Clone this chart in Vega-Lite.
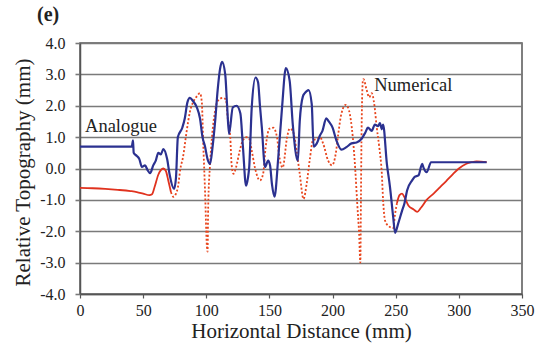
{
  "$schema": "https://vega.github.io/schema/vega-lite/v6.json",
  "autosize": {"type": "none"},
  "width": 442,
  "height": 251,
  "padding": {"left": 80, "top": 43, "right": 18, "bottom": 50},
  "background": "white",
  "config": {
    "view": {"stroke": "#555555", "strokeWidth": 1.5},
    "font": "Liberation Serif",
    "axis": {"labelFont": "Liberation Serif", "titleFont": "Liberation Serif"},
    "text": {"font": "Liberation Serif"}
  },
  "title": {"text": "(e)", "anchor": "start", "frame": "group", "dx": -43, "offset": 10, "fontSize": 20, "font": "Liberation Serif", "fontWeight": "bold", "color": "#222222"},
  "datasets": {
    "lines": [
      {"series": "Analogue", "seg": "a", "x": 0, "y": 0.7},
      {"series": "Analogue", "seg": "a", "x": 41, "y": 0.7},
      {"series": "Analogue", "seg": "a", "x": 42, "y": 0.9},
      {"series": "Analogue", "seg": "a", "x": 42.5, "y": 0.5},
      {"series": "Analogue", "seg": "a", "x": 45, "y": 0.4},
      {"series": "Analogue", "seg": "a", "x": 47, "y": 0.3},
      {"series": "Analogue", "seg": "a", "x": 49, "y": 0.05},
      {"series": "Analogue", "seg": "a", "x": 51.5, "y": 0.1},
      {"series": "Analogue", "seg": "a", "x": 53.5, "y": -0.05},
      {"series": "Analogue", "seg": "a", "x": 55.5, "y": -0.15},
      {"series": "Analogue", "seg": "a", "x": 58, "y": 0.1},
      {"series": "Analogue", "seg": "a", "x": 60, "y": 0.25},
      {"series": "Analogue", "seg": "a", "x": 62, "y": 0.5},
      {"series": "Analogue", "seg": "a", "x": 64, "y": 0.45},
      {"series": "Analogue", "seg": "a", "x": 66, "y": 0.62},
      {"series": "Analogue", "seg": "a", "x": 69, "y": 0.3},
      {"series": "Analogue", "seg": "a", "x": 71, "y": -0.2},
      {"series": "Analogue", "seg": "a", "x": 74.5, "y": -0.65},
      {"series": "Analogue", "seg": "a", "x": 76, "y": -0.3},
      {"series": "Analogue", "seg": "a", "x": 77.5, "y": 1.0},
      {"series": "Analogue", "seg": "a", "x": 81, "y": 1.3},
      {"series": "Analogue", "seg": "a", "x": 83, "y": 1.6},
      {"series": "Analogue", "seg": "a", "x": 85, "y": 2.1},
      {"series": "Analogue", "seg": "a", "x": 87, "y": 2.25},
      {"series": "Analogue", "seg": "a", "x": 89.5, "y": 2.15},
      {"series": "Analogue", "seg": "a", "x": 92.5, "y": 1.95},
      {"series": "Analogue", "seg": "a", "x": 95, "y": 1.6},
      {"series": "Analogue", "seg": "a", "x": 97, "y": 1.0},
      {"series": "Analogue", "seg": "a", "x": 99, "y": 0.7},
      {"series": "Analogue", "seg": "a", "x": 101, "y": 0.3},
      {"series": "Analogue", "seg": "a", "x": 103, "y": 0.15},
      {"series": "Analogue", "seg": "a", "x": 105, "y": 0.7},
      {"series": "Analogue", "seg": "a", "x": 107, "y": 1.5},
      {"series": "Analogue", "seg": "a", "x": 109, "y": 2.5},
      {"series": "Analogue", "seg": "a", "x": 111, "y": 3.2},
      {"series": "Analogue", "seg": "a", "x": 112.5, "y": 3.4},
      {"series": "Analogue", "seg": "a", "x": 115, "y": 3.0},
      {"series": "Analogue", "seg": "a", "x": 116.5, "y": 2.0},
      {"series": "Analogue", "seg": "a", "x": 118, "y": 1.1},
      {"series": "Analogue", "seg": "a", "x": 121, "y": 1.95},
      {"series": "Analogue", "seg": "a", "x": 124, "y": 2.0},
      {"series": "Analogue", "seg": "a", "x": 127, "y": 1.75},
      {"series": "Analogue", "seg": "a", "x": 129, "y": 0.7},
      {"series": "Analogue", "seg": "a", "x": 131.5, "y": -0.55},
      {"series": "Analogue", "seg": "a", "x": 133, "y": -0.3},
      {"series": "Analogue", "seg": "a", "x": 134, "y": 0.05},
      {"series": "Analogue", "seg": "a", "x": 136, "y": 1.95},
      {"series": "Analogue", "seg": "a", "x": 139, "y": 2.9},
      {"series": "Analogue", "seg": "a", "x": 141, "y": 2.75},
      {"series": "Analogue", "seg": "a", "x": 142.5, "y": 2.0},
      {"series": "Analogue", "seg": "a", "x": 144, "y": 1.3},
      {"series": "Analogue", "seg": "a", "x": 146.5, "y": 0.05},
      {"series": "Analogue", "seg": "a", "x": 149, "y": 0.25},
      {"series": "Analogue", "seg": "a", "x": 150.5, "y": 0.1},
      {"series": "Analogue", "seg": "a", "x": 152, "y": -0.5},
      {"series": "Analogue", "seg": "a", "x": 154, "y": -0.9},
      {"series": "Analogue", "seg": "a", "x": 157, "y": 0.35},
      {"series": "Analogue", "seg": "a", "x": 160, "y": 1.95},
      {"series": "Analogue", "seg": "a", "x": 163, "y": 3.2},
      {"series": "Analogue", "seg": "a", "x": 166, "y": 2.8},
      {"series": "Analogue", "seg": "a", "x": 168.5, "y": 1.4},
      {"series": "Analogue", "seg": "a", "x": 172.5, "y": 0.25},
      {"series": "Analogue", "seg": "a", "x": 174, "y": 1.5},
      {"series": "Analogue", "seg": "a", "x": 176.5, "y": 2.3},
      {"series": "Analogue", "seg": "a", "x": 178, "y": 2.4},
      {"series": "Analogue", "seg": "a", "x": 181, "y": 2.5},
      {"series": "Analogue", "seg": "a", "x": 183.5, "y": 2.05},
      {"series": "Analogue", "seg": "a", "x": 185, "y": 0.7},
      {"series": "Analogue", "seg": "a", "x": 187.5, "y": 0.8},
      {"series": "Analogue", "seg": "a", "x": 190, "y": 1.05},
      {"series": "Analogue", "seg": "a", "x": 192, "y": 1.2},
      {"series": "Analogue", "seg": "a", "x": 195, "y": 1.6},
      {"series": "Analogue", "seg": "a", "x": 197, "y": 1.5},
      {"series": "Analogue", "seg": "a", "x": 200, "y": 1.3},
      {"series": "Analogue", "seg": "a", "x": 203, "y": 0.9},
      {"series": "Analogue", "seg": "a", "x": 207, "y": 0.6},
      {"series": "Analogue", "seg": "a", "x": 211, "y": 0.68},
      {"series": "Analogue", "seg": "a", "x": 215, "y": 0.8},
      {"series": "Analogue", "seg": "a", "x": 219, "y": 0.83},
      {"series": "Analogue", "seg": "a", "x": 223, "y": 0.95},
      {"series": "Analogue", "seg": "a", "x": 226, "y": 1.15},
      {"series": "Analogue", "seg": "a", "x": 228, "y": 1.3},
      {"series": "Analogue", "seg": "a", "x": 231, "y": 1.2},
      {"series": "Analogue", "seg": "a", "x": 233.5, "y": 1.4},
      {"series": "Analogue", "seg": "a", "x": 236, "y": 1.35},
      {"series": "Analogue", "seg": "a", "x": 237.5, "y": 1.45},
      {"series": "Analogue", "seg": "a", "x": 239, "y": 1.25},
      {"series": "Analogue", "seg": "a", "x": 240, "y": 1.4},
      {"series": "Analogue", "seg": "a", "x": 243, "y": 0.15},
      {"series": "Analogue", "seg": "a", "x": 245.5, "y": -0.6},
      {"series": "Analogue", "seg": "a", "x": 248, "y": -1.55},
      {"series": "Analogue", "seg": "a", "x": 249.5, "y": -2.05},
      {"series": "Analogue", "seg": "a", "x": 252, "y": -1.75},
      {"series": "Analogue", "seg": "a", "x": 255, "y": -1.35},
      {"series": "Analogue", "seg": "a", "x": 257, "y": -1.1},
      {"series": "Analogue", "seg": "a", "x": 259, "y": -0.7},
      {"series": "Analogue", "seg": "a", "x": 263, "y": -0.38},
      {"series": "Analogue", "seg": "a", "x": 265, "y": -0.27},
      {"series": "Analogue", "seg": "a", "x": 268, "y": -0.22},
      {"series": "Analogue", "seg": "a", "x": 271, "y": 0.15},
      {"series": "Analogue", "seg": "a", "x": 272, "y": 0.03},
      {"series": "Analogue", "seg": "a", "x": 274.5, "y": -0.12},
      {"series": "Analogue", "seg": "a", "x": 278, "y": 0.2},
      {"series": "Analogue", "seg": "a", "x": 322, "y": 0.2},

      {"series": "Numerical", "seg": "solid1", "x": 0, "y": -0.62},
      {"series": "Numerical", "seg": "solid1", "x": 10, "y": -0.63},
      {"series": "Numerical", "seg": "solid1", "x": 20, "y": -0.65},
      {"series": "Numerical", "seg": "solid1", "x": 30, "y": -0.68},
      {"series": "Numerical", "seg": "solid1", "x": 40, "y": -0.72},
      {"series": "Numerical", "seg": "solid1", "x": 45, "y": -0.75},
      {"series": "Numerical", "seg": "solid1", "x": 50, "y": -0.8},
      {"series": "Numerical", "seg": "solid1", "x": 55, "y": -0.85},
      {"series": "Numerical", "seg": "solid1", "x": 57, "y": -0.82},
      {"series": "Numerical", "seg": "solid1", "x": 59, "y": -0.6},
      {"series": "Numerical", "seg": "solid1", "x": 62, "y": -0.2},
      {"series": "Numerical", "seg": "solid1", "x": 64, "y": -0.05},
      {"series": "Numerical", "seg": "solid1", "x": 66, "y": 0.0},
      {"series": "Numerical", "seg": "solid1", "x": 68, "y": -0.08},
      {"series": "Numerical", "seg": "solid1", "x": 70, "y": -0.4},
      {"series": "Numerical", "seg": "solid1", "x": 72, "y": -0.75},

      {"series": "Numerical", "seg": "dotted", "x": 72, "y": -0.75},
      {"series": "Numerical", "seg": "dotted", "x": 74, "y": -0.9},
      {"series": "Numerical", "seg": "dotted", "x": 76, "y": -0.8},
      {"series": "Numerical", "seg": "dotted", "x": 77.5, "y": -0.6},
      {"series": "Numerical", "seg": "dotted", "x": 79.5, "y": 0.0},
      {"series": "Numerical", "seg": "dotted", "x": 81.5, "y": 0.35},
      {"series": "Numerical", "seg": "dotted", "x": 84.5, "y": 1.2},
      {"series": "Numerical", "seg": "dotted", "x": 87, "y": 1.8},
      {"series": "Numerical", "seg": "dotted", "x": 90, "y": 2.15},
      {"series": "Numerical", "seg": "dotted", "x": 92.5, "y": 2.3},
      {"series": "Numerical", "seg": "dotted", "x": 95, "y": 2.4},
      {"series": "Numerical", "seg": "dotted", "x": 96.5, "y": 2.1},
      {"series": "Numerical", "seg": "dotted", "x": 97.5, "y": 0.9},
      {"series": "Numerical", "seg": "dotted", "x": 99, "y": -0.7},
      {"series": "Numerical", "seg": "dotted", "x": 100.5, "y": -2.5},
      {"series": "Numerical", "seg": "dotted", "x": 101, "y": -2.65},
      {"series": "Numerical", "seg": "dotted", "x": 101.5, "y": -1.25},
      {"series": "Numerical", "seg": "dotted", "x": 103, "y": 0.15},
      {"series": "Numerical", "seg": "dotted", "x": 104.5, "y": 1.0},
      {"series": "Numerical", "seg": "dotted", "x": 107, "y": 1.85},
      {"series": "Numerical", "seg": "dotted", "x": 109, "y": 2.15},
      {"series": "Numerical", "seg": "dotted", "x": 113, "y": 2.25},
      {"series": "Numerical", "seg": "dotted", "x": 115.5, "y": 2.2},
      {"series": "Numerical", "seg": "dotted", "x": 117, "y": 1.6},
      {"series": "Numerical", "seg": "dotted", "x": 119, "y": 1.0},
      {"series": "Numerical", "seg": "dotted", "x": 120, "y": 0.15},
      {"series": "Numerical", "seg": "dotted", "x": 121.5, "y": -0.17},
      {"series": "Numerical", "seg": "dotted", "x": 123.5, "y": 0.03},
      {"series": "Numerical", "seg": "dotted", "x": 126.5, "y": 0.57},
      {"series": "Numerical", "seg": "dotted", "x": 129, "y": 0.9},
      {"series": "Numerical", "seg": "dotted", "x": 132, "y": 1.0},
      {"series": "Numerical", "seg": "dotted", "x": 134, "y": 0.95},
      {"series": "Numerical", "seg": "dotted", "x": 136, "y": 0.57},
      {"series": "Numerical", "seg": "dotted", "x": 138.5, "y": 0.03},
      {"series": "Numerical", "seg": "dotted", "x": 142.5, "y": -0.38},
      {"series": "Numerical", "seg": "dotted", "x": 145, "y": -0.17},
      {"series": "Numerical", "seg": "dotted", "x": 147, "y": 0.67},
      {"series": "Numerical", "seg": "dotted", "x": 150, "y": 1.27},
      {"series": "Numerical", "seg": "dotted", "x": 153, "y": 1.3},
      {"series": "Numerical", "seg": "dotted", "x": 156, "y": 1.0},
      {"series": "Numerical", "seg": "dotted", "x": 157.5, "y": 0.47},
      {"series": "Numerical", "seg": "dotted", "x": 160.5, "y": 0.03},
      {"series": "Numerical", "seg": "dotted", "x": 164, "y": 1.0},
      {"series": "Numerical", "seg": "dotted", "x": 166, "y": 1.27},
      {"series": "Numerical", "seg": "dotted", "x": 168.5, "y": 1.2},
      {"series": "Numerical", "seg": "dotted", "x": 171.5, "y": 0.57},
      {"series": "Numerical", "seg": "dotted", "x": 174, "y": -0.17},
      {"series": "Numerical", "seg": "dotted", "x": 177, "y": -0.97},
      {"series": "Numerical", "seg": "dotted", "x": 179.5, "y": -0.48},
      {"series": "Numerical", "seg": "dotted", "x": 182, "y": 0.3},
      {"series": "Numerical", "seg": "dotted", "x": 184.5, "y": 0.9},
      {"series": "Numerical", "seg": "dotted", "x": 188, "y": 0.95},
      {"series": "Numerical", "seg": "dotted", "x": 190, "y": 1.0},
      {"series": "Numerical", "seg": "dotted", "x": 192.5, "y": 0.8},
      {"series": "Numerical", "seg": "dotted", "x": 196.5, "y": 0.25},
      {"series": "Numerical", "seg": "dotted", "x": 199.5, "y": 0.1},
      {"series": "Numerical", "seg": "dotted", "x": 202.5, "y": 0.47},
      {"series": "Numerical", "seg": "dotted", "x": 204.5, "y": 1.1},
      {"series": "Numerical", "seg": "dotted", "x": 207, "y": 1.75},
      {"series": "Numerical", "seg": "dotted", "x": 210.5, "y": 2.03},
      {"series": "Numerical", "seg": "dotted", "x": 213, "y": 1.85},
      {"series": "Numerical", "seg": "dotted", "x": 216, "y": 1.0},
      {"series": "Numerical", "seg": "dotted", "x": 218, "y": -0.05},
      {"series": "Numerical", "seg": "dotted", "x": 219.5, "y": -1.1},
      {"series": "Numerical", "seg": "dotted", "x": 221, "y": -2.07},
      {"series": "Numerical", "seg": "dotted", "x": 222, "y": -3.0},
      {"series": "Numerical", "seg": "dotted", "x": 222.5, "y": -0.8},
      {"series": "Numerical", "seg": "dotted", "x": 223, "y": 1.3},
      {"series": "Numerical", "seg": "dotted", "x": 224, "y": 2.8},
      {"series": "Numerical", "seg": "dotted", "x": 224.5, "y": 2.85},
      {"series": "Numerical", "seg": "dotted", "x": 227, "y": 2.5},
      {"series": "Numerical", "seg": "dotted", "x": 229, "y": 2.27},
      {"series": "Numerical", "seg": "dotted", "x": 231, "y": 2.4},
      {"series": "Numerical", "seg": "dotted", "x": 233, "y": 2.05},
      {"series": "Numerical", "seg": "dotted", "x": 235, "y": 1.3},
      {"series": "Numerical", "seg": "dotted", "x": 237, "y": 0.67},
      {"series": "Numerical", "seg": "dotted", "x": 239, "y": -0.17},
      {"series": "Numerical", "seg": "dotted", "x": 240, "y": -1.0},
      {"series": "Numerical", "seg": "dotted", "x": 241.5, "y": -1.65},
      {"series": "Numerical", "seg": "dotted", "x": 244, "y": -1.82},
      {"series": "Numerical", "seg": "dotted", "x": 248, "y": -1.9},
      {"series": "Numerical", "seg": "dotted", "x": 249.5, "y": -1.45},
      {"series": "Numerical", "seg": "dotted", "x": 251, "y": -1.1},

      {"series": "Numerical", "seg": "solid2", "x": 251, "y": -1.1},
      {"series": "Numerical", "seg": "solid2", "x": 253, "y": -0.85},
      {"series": "Numerical", "seg": "solid2", "x": 255, "y": -0.8},
      {"series": "Numerical", "seg": "solid2", "x": 257, "y": -0.92},
      {"series": "Numerical", "seg": "solid2", "x": 260, "y": -1.18},
      {"series": "Numerical", "seg": "solid2", "x": 264, "y": -1.3},
      {"series": "Numerical", "seg": "solid2", "x": 267, "y": -1.38},
      {"series": "Numerical", "seg": "solid2", "x": 270, "y": -1.25},
      {"series": "Numerical", "seg": "solid2", "x": 274.5, "y": -1.0},
      {"series": "Numerical", "seg": "solid2", "x": 280, "y": -0.8},
      {"series": "Numerical", "seg": "solid2", "x": 285, "y": -0.6},
      {"series": "Numerical", "seg": "solid2", "x": 290, "y": -0.4},
      {"series": "Numerical", "seg": "solid2", "x": 295.5, "y": -0.17},
      {"series": "Numerical", "seg": "solid2", "x": 300, "y": 0.0},
      {"series": "Numerical", "seg": "solid2", "x": 306, "y": 0.15},
      {"series": "Numerical", "seg": "solid2", "x": 310, "y": 0.2},
      {"series": "Numerical", "seg": "solid2", "x": 314, "y": 0.23},
      {"series": "Numerical", "seg": "solid2", "x": 322, "y": 0.2}
    ],
    "labels": [
      {"label": "Analogue", "x": 4, "y": 1.37},
      {"label": "Numerical", "x": 233, "y": 2.67}
    ]
  },
  "encoding": {
    "x": {
      "field": "x", "type": "quantitative",
      "scale": {"domain": [0, 350], "nice": false},
      "axis": {
        "values": [0, 50, 100, 150, 200, 250, 300, 350],
        "title": "Horizontal Distance (mm)",
        "grid": false,
        "domain": true, "domainColor": "#555555", "domainWidth": 1.5,
        "ticks": true, "tickColor": "#555555", "tickSize": 4, "tickWidth": 1.2,
        "labelFont": "Liberation Serif", "labelFontSize": 16, "labelColor": "#222222", "labelPadding": 4,
        "labelOverlap": false, "labelFlush": false,
        "titleFont": "Liberation Serif", "titleFontSize": 21, "titleFontWeight": "normal", "titleColor": "#222222",
        "titleBaseline": "alphabetic", "titleY": 43
      }
    },
    "y": {
      "field": "y", "type": "quantitative",
      "scale": {"domain": [-4, 4], "nice": false},
      "axis": {
        "values": [-4, -3, -2, -1, 0, 1, 2, 3, 4],
        "labelExpr": "(datum.value < 0 ? '-' : '') + format(abs(datum.value), '.1f')",
        "title": "Relative Topography (mm)",
        "grid": true, "gridColor": "#7a7a7a", "gridWidth": 1.6,
        "domain": true, "domainColor": "#555555", "domainWidth": 1.5,
        "ticks": true, "tickColor": "#7a7a7a", "tickSize": 5, "tickWidth": 1.6,
        "labelFont": "Liberation Serif", "labelFontSize": 16, "labelColor": "#222222", "labelPadding": 10,
        "labelFlush": false, "labelOverlap": false,
        "titleFont": "Liberation Serif", "titleFontSize": 21, "titleFontWeight": "normal", "titleColor": "#222222",
        "titleAngle": -90, "titleBaseline": "alphabetic", "titleX": -51, "titleY": 129, "titleAlign": "center"
      }
    }
  },
  "layer": [
    {
      "data": {"name": "lines"},
      "transform": [{"filter": "datum.seg === 'dotted'"}],
      "mark": {"type": "line", "color": "#e8461e", "strokeWidth": 1.8, "strokeDash": [2, 2], "interpolate": "monotone", "clip": true},
      "encoding": {"detail": {"field": "seg"}}
    },
    {
      "data": {"name": "lines"},
      "transform": [{"filter": "datum.series === 'Numerical' && datum.seg !== 'dotted'"}],
      "mark": {"type": "line", "color": "#e0321e", "strokeWidth": 1.8, "interpolate": "monotone", "clip": true},
      "encoding": {"detail": {"field": "seg"}}
    },
    {
      "data": {"name": "lines"},
      "transform": [{"filter": "datum.series === 'Analogue'"}],
      "mark": {"type": "line", "color": "#2b3190", "strokeWidth": 2.2, "interpolate": "monotone", "clip": true},
      "encoding": {}
    },
    {
      "data": {"name": "labels"},
      "mark": {"type": "text", "align": "left", "baseline": "middle", "font": "Liberation Serif", "fontSize": 18.5, "color": "#222222"},
      "encoding": {"text": {"field": "label"}}
    }
  ]
}
